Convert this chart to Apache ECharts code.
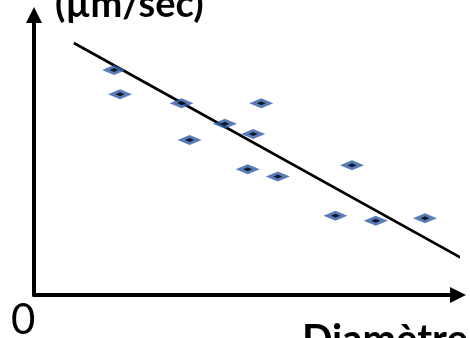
<!DOCTYPE html>
<html>
<head>
<meta charset="utf-8">
<script src="https://cdn.jsdelivr.net/npm/echarts@6/dist/echarts.min.js"></script>
<style>
  html, body { margin: 0; padding: 0; background: #fff; }
  #chart { width: 470px; height: 338px; }
</style>
</head>
<body>
<div id="chart"></div>
<script>
// measured points (diameter, speed) in arbitrary units 0..100
const diam  = [18.9, 20.3, 34.8, 53.6, 45.0, 51.7, 36.7, 50.4, 57.5, 75.0, 71.1, 80.6, 92.2];
const speed = [80.4, 71.7, 68.5, 68.5, 61.2, 57.5, 55.4, 44.9, 42.3, 46.3, 28.3, 26.5, 27.4];
// trend line ends
const trendX = [9.4, 101.2];
const trendY = [90.0, 12.9];

const points = diam.map((d, i) => [d, speed[i]]);
const trend = trendX.map((x, i) => [x, trendY[i]]);

const chart = echarts.init(document.getElementById('chart'));

const axisCommon = {
    type: 'value',
    min: 0,
    max: 100,
    axisLabel: { show: false },
    axisTick: { show: false },
    splitLine: { show: false },
    axisLine: {
        show: true,
        onZero: false,
        symbol: ['none', 'triangle'],
        symbolSize: [16, 16],
        lineStyle: { color: '#000', width: 4 }
    }
};

chart.setOption({
    animation: false,
    grid: { left: 34, right: 12, top: 15, bottom: 43 },
    xAxis: axisCommon,
    yAxis: axisCommon,
    series: [
        {
            type: 'line',
            data: trend,
            clip: false,
            symbol: 'none',
            lineStyle: { color: '#000', width: 2.6 },
            z: 3
        },
        {
            type: 'scatter',
            data: points,
            symbol: 'diamond',
            symbolSize: [24, 10],
            itemStyle: { color: '#2f5ba8' },
            z: 4
        },
        {
            type: 'scatter',
            data: points,
            symbol: 'diamond',
            symbolSize: [9, 4],
            itemStyle: { color: '#000' },
            z: 5
        }
    ],
    graphic: [
        {
            type: 'text', left: 55, top: -14,
            style: { text: '(µm/sec)', font: 'bold 38px Lato', fill: '#000' }
        },
        {
            type: 'text', left: 11, top: 299,
            style: { text: '0', font: '42px Lato', fill: '#000' }
        },
        {
            type: 'text', left: 302, top: 320,
            style: { text: 'Diamètre', font: 'bold 40px Lato', fill: '#000' }
        }
    ]
});
</script>
</body>
</html>
